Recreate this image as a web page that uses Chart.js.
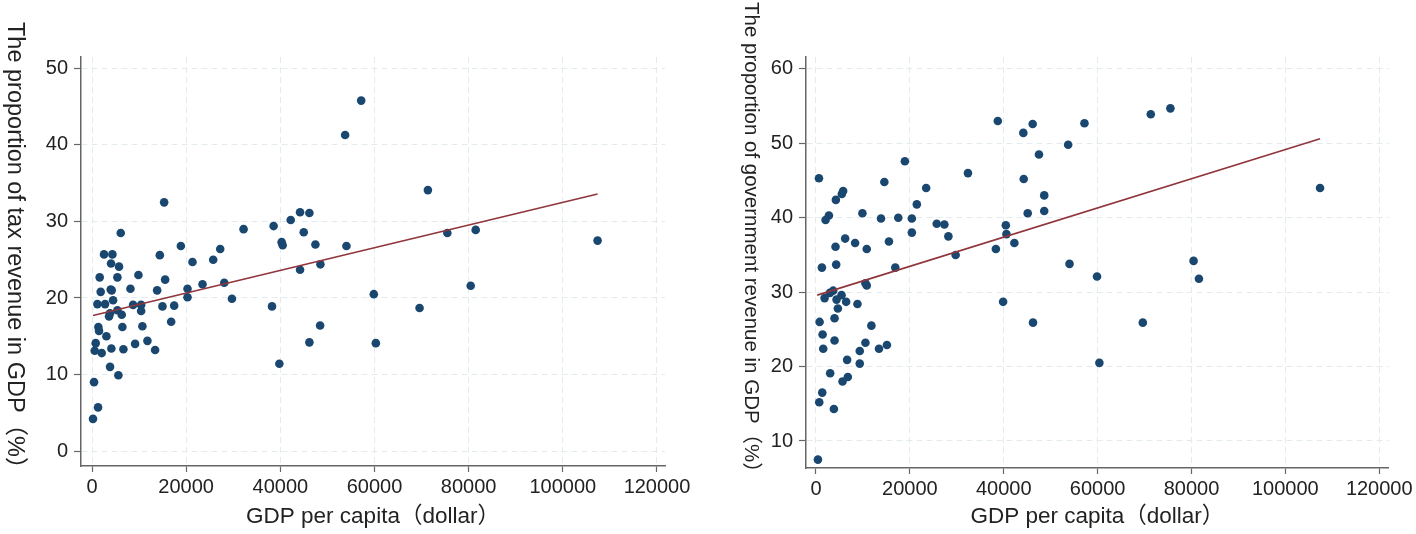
<!DOCTYPE html>
<html lang="en">
<head>
  <meta charset="UTF-8" />
  <title>Tax and government revenue vs GDP per capita</title>
  <script src="https://cdn.jsdelivr.net/npm/chart.js"></script>
  <style>
    body {
      margin: 0;
      width: 1416px;
      height: 534px;
      background: #fff;
      position: relative;
      overflow: hidden;
      font-family: "Liberation Sans", Arial, "Noto Sans CJK SC", sans-serif;
    }
    .box {
      position: absolute;
      top: 0;
      height: 534px;
    }
    .ytitle {
      position: absolute;
      writing-mode: vertical-rl;
      text-orientation: sideways;
      color: #222;
      line-height: 26px;
      white-space: nowrap;
    }
  </style>
</head>
<body>

  <div class="box" style="left:0; width:700px;">
    <canvas id="taxChart"></canvas>
  </div>
  <div class="ytitle" style="left:3px; top:22px; font-size:23.5px;">The proportion of tax revenue in GDP（%）</div>

  <div class="box" style="left:700px; width:716px;">
    <canvas id="govChart"></canvas>
  </div>
  <div class="ytitle" style="left:739px; top:2px; font-size:20.5px;">The proportion of government revenue in GDP（%）</div>

  <script>
  // left panel: tax revenue share
  const taxGdp = [
    6100, 2550, 4330, 4040, 5740, 1630, 5390, 9860, 1840, 3970,
    4180, 8160, 4470, 1140, 2770, 5390, 3830, 3620, 6310, 8720,
    10430, 10430, 1350, 1490, 6450, 10700, 3050, 780, 570, 2060,
    4110, 6670, 9150, 11770, 13400, 3830, 5600, 430, 1280, 210,
    14400, 15530, 13830, 14960, 17450, 16810, 18870, 21340, 20280, 20280,
    23470, 25740, 27230, 28090, 29720, 32190, 38570, 38230, 39790, 15320,
    57170, 53760, 71340, 42200, 44190, 46170, 44970, 40280, 40490, 47450,
    54040, 44190, 48510, 75470, 80430, 59850, 69570, 48450, 46170, 60280,
    81490, 107380
  ];
  const taxShare = [
    28.5, 25.7, 25.7, 24.5, 24.1, 22.7, 22.7, 23.0, 20.8, 21.1,
    21.0, 21.2, 19.7, 19.2, 19.2, 18.4, 18.0, 17.6, 17.8, 19.1,
    19.1, 18.3, 16.2, 15.7, 16.2, 16.3, 15.0, 14.1, 13.1, 12.8,
    13.4, 13.3, 14.0, 14.4, 13.2, 11.0, 9.9, 9.0, 5.7, 4.2,
    25.6, 22.4, 21.0, 18.9, 19.0, 16.9, 26.8, 24.7, 21.2, 20.1,
    21.8, 25.0, 26.4, 22.0, 19.9, 29.0, 29.4, 18.9, 11.4, 32.5,
    45.8, 41.3, 34.1, 30.2, 31.2, 31.1, 28.6, 27.3, 26.9, 27.0,
    26.8, 23.7, 24.4, 28.5, 21.6, 20.5, 18.7, 16.4, 14.2, 14.1,
    28.9, 27.5
  ];
  const taxFitX = [210, 107380];
  const taxFitY = [17.7, 33.6];

  // right panel: government revenue share
  const govGdp = [
    640, 18940, 32380, 14570, 23480, 5790, 5510, 4240, 21490, 2760,
    2050, 9900, 13860, 17540, 20430, 20430, 25730, 27360, 28210, 29760,
    38330, 6220, 8340, 4170, 10820, 15550, 4310, 1270, 16900, 10540,
    10820, 3670, 2970, 1840, 4390, 5450, 6430, 8840, 4670, 3960,
    780, 11810, 1420, 3960, 10540, 1550, 9330, 13430, 15120, 6640,
    9330, 3030, 6790, 5660, 1340, 700, 3820, 420, 38740, 46170,
    44180, 57200, 71330, 75510, 53730, 47510, 44260, 48630, 48630, 45110,
    40450, 40580, 42270, 54020, 59880, 39870, 46240, 69630, 60380, 107390,
    80450, 81590
  ];
  const govShare = [
    45.3, 47.6, 46.0, 44.8, 44.0, 43.6, 43.2, 42.4, 41.8, 40.3,
    39.7, 40.6, 39.9, 40.0, 39.9, 38.0, 39.2, 39.1, 37.5, 35.0,
    35.8, 37.2, 36.6, 36.1, 35.8, 36.8, 33.7, 33.3, 33.3, 31.2,
    30.9, 30.2, 29.9, 29.2, 29.0, 29.6, 28.7, 28.4, 27.8, 26.5,
    26.0, 25.5, 24.3, 23.5, 23.2, 22.4, 22.1, 22.4, 22.9, 20.9,
    20.4, 19.1, 18.6, 18.0, 16.5, 15.2, 14.3, 7.5, 53.0, 52.6,
    51.4, 52.7, 53.9, 54.7, 49.8, 48.5, 45.2, 43.0, 40.9, 40.6,
    39.0, 37.8, 36.6, 33.8, 32.1, 28.7, 25.9, 25.9, 20.5, 44.0,
    34.2, 31.8
  ];
  const govFitX = [280, 107390];
  const govFitY = [29.6, 50.6];

  const gdpTicks = [0, 20000, 40000, 60000, 80000, 100000, 120000];
  const taxTicks = [0, 10, 20, 30, 40, 50];
  const govTicks = [10, 20, 30, 40, 50, 60];

  const dotColor = '#1a476f';
  const fitColor = '#90353b';
  const gridColor = '#e3ebee';
  const axisColor = '#666';
  const textColor = '#222';
  const fontFamily = '"Liberation Sans", Arial, "Noto Sans CJK SC", sans-serif';

  function toPoints(xs, ys) {
    return xs.map((x, i) => ({ x: x, y: ys[i] }));
  }

  function makeChart(id, xs, ys, fitX, fitY, yTicks, xRange, yRange, pad, yWidth, xHeight) {
    const axisCommon = {
      border: { color: axisColor, width: 1.5, dash: [6, 4] },
      grid: { color: gridColor, lineWidth: 1, tickColor: axisColor, tickLength: 6, tickWidth: 1.2 },
      ticks: { color: textColor, font: { family: fontFamily, size: 20 }, callback: v => String(v) }
    };
    new Chart(document.getElementById(id), {
      type: 'scatter',
      data: {
        datasets: [
          {
            data: toPoints(fitX, fitY),
            showLine: true,
            borderColor: fitColor,
            borderWidth: 1.6,
            pointRadius: 0,
            order: 0
          },
          {
            data: toPoints(xs, ys),
            backgroundColor: dotColor,
            borderWidth: 0,
            pointRadius: 4.3,
            order: 1
          }
        ]
      },
      options: {
        responsive: true,
        maintainAspectRatio: false,
        animation: false,
        events: [],
        layout: { padding: pad },
        plugins: { legend: { display: false }, tooltip: { enabled: false } },
        scales: {
          x: {
            type: 'linear',
            min: xRange[0],
            max: xRange[1],
            border: axisCommon.border,
            grid: axisCommon.grid,
            ticks: Object.assign({ padding: 3, maxRotation: 0 }, axisCommon.ticks),
            afterBuildTicks: s => { s.ticks = gdpTicks.map(v => ({ value: v })); },
            afterFit: s => { s.height = xHeight; },
            title: {
              display: true,
              text: 'GDP per capita（dollar）',
              color: textColor,
              font: { family: fontFamily, size: 22.5 },
              padding: { top: 0, bottom: 4 }
            }
          },
          y: {
            type: 'linear',
            min: yRange[0],
            max: yRange[1],
            border: axisCommon.border,
            grid: Object.assign({}, axisCommon.grid, { tickLength: 7 }),
            ticks: Object.assign({ padding: 6 }, axisCommon.ticks),
            afterBuildTicks: s => { s.ticks = yTicks.map(v => ({ value: v })); },
            afterFit: s => { s.width = yWidth; }
          }
        }
      }
    });
  }

  makeChart('taxChart', taxGdp, taxShare, taxFitX, taxFitY, taxTicks,
    [-2340, 121700], [-1.96, 51.5], { left: 30, top: 57, right: 35, bottom: 0 }, 51, 68);
  makeChart('govChart', govGdp, govShare, govFitX, govFitY, govTicks,
    [-2120, 122000], [6.37, 61.6], { left: 60, top: 57, right: 24, bottom: 0 }, 46, 66);
  </script>

</body>
</html>
